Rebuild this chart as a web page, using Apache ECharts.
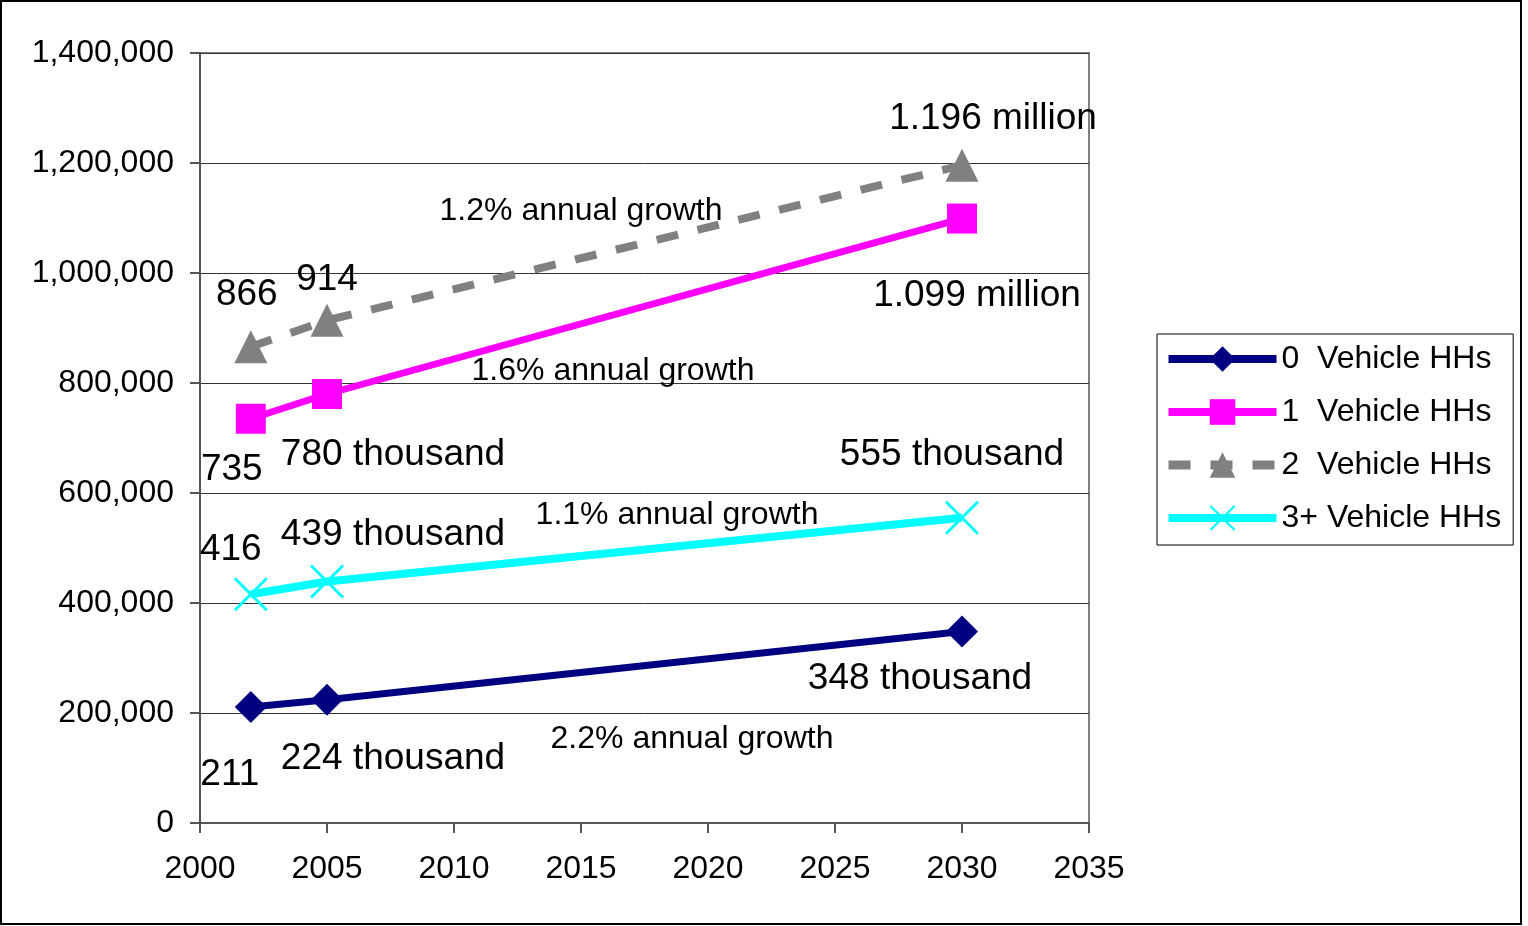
<!DOCTYPE html>
<html>
<head>
<meta charset="utf-8">
<script src="https://cdn.jsdelivr.net/npm/echarts@6/dist/echarts.min.js"></script>
<style>
  html, body { margin: 0; padding: 0; background: #fff; }
  #chart { width: 1528px; height: 926px; }
</style>
</head>
<body>
<div id="chart"></div>
<script>
// Household counts by number of vehicles
const years = [2002, 2005, 2030];
const seriesNames = ['0  Vehicle HHs', '1  Vehicle HHs', '2  Vehicle HHs', '3+ Vehicle HHs'];
const zeroVeh = [211000, 224000, 348000];
const oneVeh = [735000, 780000, 1099000];
const twoVeh = [866000, 914000, 1196000];
const threeVeh = [416000, 439000, 555000];

// Value labels shown next to each point
const zeroLabels = ['211', '224 thousand', '348 thousand'];
const oneLabels = ['735', '780 thousand', '1.099 million'];
const twoLabels = ['866', '914', '1.196 million'];
const threeLabels = ['416', '439 thousand', '555 thousand'];

// Growth-rate notes: [year, value, text]
const growthNotes = [
  [2015.0, 1112700, '1.2% annual growth'],
  [2016.26, 821800, '1.6% annual growth'],
  [2018.78, 560000, '1.1% annual growth'],
  [2019.37, 152700, '2.2% annual growth']
];

const yTicks = { min: 0, max: 1400000, interval: 200000 };
const xTicks = { min: 2000, max: 2035, interval: 5 };

const FONT = "'Liberation Sans', Arial, sans-serif";

// label offsets per series/point (pixels from the point centre)
const zeroOff = [[-21, 68], [66, 59], [-42, 47]];
const oneOff = [[-19, 51], [66, 61], [15, 77]];
const twoOff = [[-4, -52], [0, -41], [31, -46]];
const threeOff = [[-20, -44], [66, -47], [-10, -63]];

function buildData(values, labels, offs) {
  return values.map((v, i) => ({
    value: [years[i], v],
    label: {
      show: true,
      position: 'inside',
      offset: offs[i],
      formatter: labels[i],
      fontSize: 37,
      fontFamily: FONT,
      color: '#000',
      align: 'center',
      verticalAlign: 'middle'
    }
  }));
}

const crossPath = 'path://M0,1.2 L1.2,0 L20,18.8 L18.8,20 Z M18.8,0 L20,1.2 L1.2,20 L0,18.8 Z';

const chart = echarts.init(document.getElementById('chart'), null, { renderer: 'canvas' });

chart.setOption({
  animation: false,
  backgroundColor: '#fff',
  grid: {
    left: 200, right: 439, top: 53, bottom: 103,
    show: true, borderColor: '#808080', borderWidth: 2, backgroundColor: 'transparent'
  },
  legend: {
    data: [
      { name: seriesNames[0], lineStyle: { width: 8 } },
      { name: seriesNames[1], lineStyle: { width: 8 } },
      { name: seriesNames[2], lineStyle: { width: 9 } },
      { name: seriesNames[3], lineStyle: { width: 8 } }
    ],
    orient: 'vertical',
    left: 1157,
    top: 334,
    padding: [8, 12, 10, 7],
    itemWidth: 108,
    itemHeight: 32,
    itemGap: 19,
    borderColor: '#000',
    borderWidth: 1,
    textStyle: { fontSize: 32, fontFamily: FONT, color: '#000', lineHeight: 34 }
  },
  xAxis: {
    type: 'value',
    min: xTicks.min, max: xTicks.max, interval: xTicks.interval,
    axisLine: { show: true, onZero: false, lineStyle: { color: '#555', width: 2 } },
    axisTick: { show: true, length: 10, lineStyle: { color: '#555', width: 2 } },
    axisLabel: { fontSize: 32, fontFamily: FONT, color: '#000', margin: 30, formatter: v => String(v) },
    splitLine: { show: false }
  },
  yAxis: {
    type: 'value',
    min: yTicks.min, max: yTicks.max, interval: yTicks.interval,
    axisLine: { show: true, lineStyle: { color: '#555', width: 2 } },
    axisTick: { show: true, length: 10, lineStyle: { color: '#555', width: 2 } },
    axisLabel: {
      fontSize: 32, fontFamily: FONT, color: '#000', margin: 26,
      formatter: v => v.toLocaleString('en-US')
    },
    splitLine: { show: true, lineStyle: { color: '#333', width: 1 } }
  },
  graphic: [{
    type: 'rect',
    shape: { x: 1, y: 1, width: 1520, height: 923 },
    style: { fill: 'none', stroke: '#000', lineWidth: 2 },
    silent: true
  }],
  series: [
    {
      name: seriesNames[0], type: 'line',
      data: buildData(zeroVeh, zeroLabels, zeroOff),
      symbol: 'diamond', symbolSize: 32,
      lineStyle: { color: '#000080', width: 7 },
      itemStyle: { color: '#000080' }
    },
    {
      name: seriesNames[1], type: 'line',
      data: buildData(oneVeh, oneLabels, oneOff),
      symbol: 'rect', symbolSize: 30,
      lineStyle: { color: '#FF00FF', width: 7 },
      itemStyle: { color: '#FF00FF' }
    },
    {
      name: seriesNames[2], type: 'line',
      data: buildData(twoVeh, twoLabels, twoOff),
      symbol: 'triangle', symbolSize: 33,
      lineStyle: { color: '#808080', width: 8, type: [22, 20] },
      itemStyle: { color: '#808080' }
    },
    {
      name: seriesNames[3], type: 'line',
      data: buildData(threeVeh, threeLabels, threeOff),
      symbol: crossPath, symbolSize: 34,
      lineStyle: { color: '#00FFFF', width: 8 },
      itemStyle: { color: '#00FFFF' }
    },
    {
      name: 'growth', type: 'scatter',
      data: growthNotes,
      symbolSize: 0,
      silent: true,
      itemStyle: { opacity: 1 },
      label: {
        show: true, position: 'inside',
        formatter: p => p.data[2],
        fontSize: 32, fontFamily: FONT, color: '#000', opacity: 1,
        align: 'center', verticalAlign: 'middle'
      },
      z: 5
    }
  ]
});
</script>
</body>
</html>
